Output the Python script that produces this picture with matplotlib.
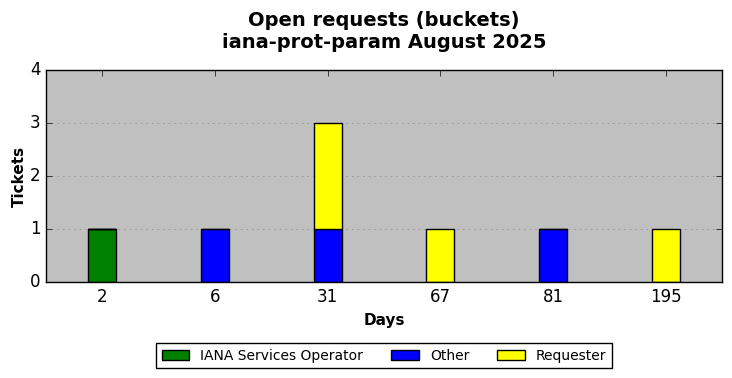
import matplotlib
matplotlib.use("Agg")
import matplotlib.pyplot as plt
import numpy as np

plt.style.use("classic")

categories = ["2", "6", "31", "67", "81", "195"]
iana = [1, 0, 0, 0, 0, 0]
other = [0, 1, 1, 0, 1, 0]
requester = [0, 0, 2, 1, 0, 1]

fig = plt.figure(figsize=(7.32, 3.78), dpi=100, facecolor="white")
ax = fig.add_axes([46/732, 1-282/378, 676/732, 212/378])
ax.set_facecolor("#c0c0c0")

x = np.arange(len(categories))
w = 0.25
b1 = np.array(iana)
b2 = b1 + np.array(other)
ax.bar(x, iana, w, align="center", color="green", edgecolor="black", label="IANA Services Operator")
ax.bar(x, other, w, bottom=b1, align="center", color="blue", edgecolor="black", label="Other")
ax.bar(x, requester, w, bottom=b2, align="center", color="yellow", edgecolor="black", label="Requester")

ax.set_xlim(-0.5, len(categories) - 0.5)
ax.set_ylim(0, 4)
ax.set_xticks(x)
ax.set_xticklabels(categories, fontsize=12)
ax.set_yticks([0, 1, 2, 3, 4])
ax.tick_params(axis="y", labelsize=12)
ax.yaxis.grid(True, linestyle=":", color="gray")
ax.xaxis.grid(False)
ax.set_axisbelow(True)

ax.set_xlabel("Days", fontsize=11, fontweight="bold")
ax.set_ylabel("Tickets", fontsize=11, fontweight="bold", labelpad=2)
fig.suptitle("Open requests (buckets)\niana-prot-param August 2025", fontsize=14, fontweight="bold",
             x=384/732, y=0.972)

leg = ax.legend(loc="upper center", bbox_to_anchor=(0.5, -0.255), ncol=3, fontsize=10, frameon=True,
                handlelength=2.0, handleheight=0.7, borderpad=0.4, columnspacing=2.0)

fig.savefig("out.png", dpi=100, facecolor="white")
